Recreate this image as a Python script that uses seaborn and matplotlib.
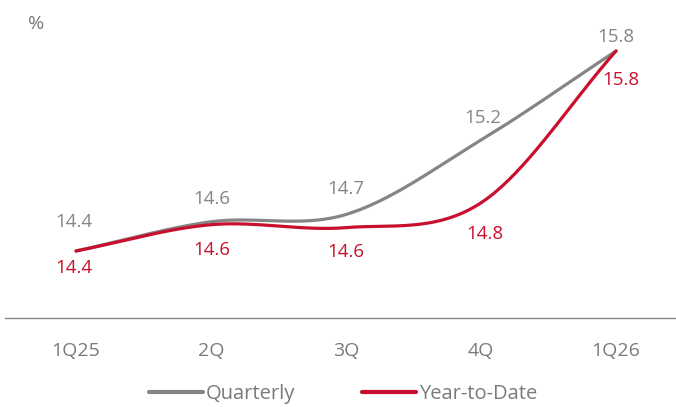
import numpy as np
import pandas as pd
import matplotlib
matplotlib.use("Agg")
import matplotlib.pyplot as plt
import seaborn as sns

categories = ["1Q25", "2Q", "3Q", "4Q", "1Q26"]
quarterly = [14.43, 14.63, 14.68, 15.19, 15.80]
ytd = [14.43, 14.61, 14.59, 14.76, 15.80]
series_names = ["Quarterly", "Year-to-Date"]

GRAY = "#858585"
RED = "#C8102E"
TXT = "#7a7a7a"

sns.set_theme(style="white")
plt.rcParams["font.family"] = ["Open Sans", "DejaVu Sans"]


def catmull_rom(vals, n=60):
    v = np.asarray(vals, dtype=float)
    m = np.zeros_like(v)
    m[1:-1] = (v[2:] - v[:-2]) / 2.0
    m[0] = v[1] - v[0]
    m[-1] = v[-1] - v[-2]
    xs, ys = [], []
    for i in range(len(v) - 1):
        t = np.linspace(0, 1, n, endpoint=(i == len(v) - 2))
        h00 = 2 * t**3 - 3 * t**2 + 1
        h10 = t**3 - 2 * t**2 + t
        h01 = -2 * t**3 + 3 * t**2
        h11 = t**3 - t**2
        ys.append(h00 * v[i] + h10 * m[i] + h01 * v[i + 1] + h11 * m[i + 1])
        xs.append(i + t)
    return np.concatenate(xs), np.concatenate(ys)


frames = []
for name, vals in zip(series_names, [quarterly, ytd]):
    x, y = catmull_rom(vals)
    frames.append(pd.DataFrame({"x": x, "y": y, "series": name}))
df = pd.concat(frames, ignore_index=True)

fig = plt.figure(figsize=(6.76, 4.07), dpi=100)
ax = fig.add_axes([5 / 676, 89 / 407, 671 / 676, 318 / 407])

sns.lineplot(data=df, x="x", y="y", hue="series", palette=[GRAY, RED],
             linewidth=2.3, ax=ax, legend=False, sort=False, estimator=None)

ax.set_xlim(-0.526, 4.444)
ax.set_ylim(13.971, 16.149)

for s in ["top", "right", "left"]:
    ax.spines[s].set_visible(False)
ax.spines["bottom"].set_color("#8a8a8a")
ax.spines["bottom"].set_linewidth(1.0)
ax.set_yticks([])
ax.set_xticks(range(len(categories)))
ax.set_xticklabels(categories)
ax.tick_params(axis="x", length=0, pad=17, labelsize=14, labelcolor=TXT)
ax.set_xlabel("")
ax.set_ylabel("")

gray_off = [29, 23, 25, 22, 14]
red_off = [17, 25, 24, 31, 29]
gray_dx = [-2, 1, 0, 2, 0]
red_dx = [-2, 1, 0, 4, 5]
for i, (q, r) in enumerate(zip(quarterly, ytd)):
    ax.annotate(f"{q:.1f}", (i, q), xytext=(gray_dx[i], gray_off[i]),
                textcoords="offset pixels", ha="center", va="center",
                color=GRAY, fontsize=13.5)
    ax.annotate(f"{r:.1f}", (i, r), xytext=(red_dx[i], -red_off[i]),
                textcoords="offset pixels", ha="center", va="center",
                color=RED, fontsize=13.5)

fig.text(36 / 676, 1 - 24 / 407, "%", ha="center", va="center",
         color=TXT, fontsize=14)

handles = [plt.Line2D([], [], color=GRAY, linewidth=3),
           plt.Line2D([], [], color=RED, linewidth=3)]
fig.legend(handles, series_names, loc="center", ncol=2,
           bbox_to_anchor=(343 / 676, 1 - 394 / 407), frameon=False,
           fontsize=14.5, labelcolor=TXT, handlelength=2.7,
           handletextpad=0.15, columnspacing=3.3)

fig.savefig("out.png", dpi=100)
